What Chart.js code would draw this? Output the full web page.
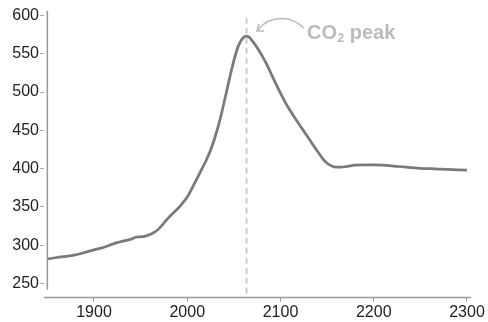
<!DOCTYPE html>
<html>
<head>
<meta charset="utf-8">
<script src="https://cdn.jsdelivr.net/npm/chart.js@4/dist/chart.umd.min.js"></script>
<style>
  html, body { margin: 0; padding: 0; background: #fff; }
  #wrap { position: relative; width: 488px; height: 322px; }
</style>
</head>
<body>
<div id="wrap"><canvas id="c" width="488" height="322"></canvas></div>
<script>
const years = [1850,1860,1870,1880,1890,1900,1910,1920,1925,1930,1940,1945,1950,1955,1960,1965,1970,1975,1980,1985,1990,1995,2000,2005,2010,2015,2020,2025,2030,2035,2040,2045,2050,2055,2060,2063,2066,2070,2075,2080,2085,2090,2095,2100,2105,2110,2115,2120,2125,2130,2135,2140,2145,2150,2155,2160,2165,2170,2180,2190,2200,2210,2220,2230,2240,2250,2260,2270,2280,2290,2300];
const co2 =   [282, 284, 285.5,287.5,290.5,294, 297, 301.5,303.5,305, 308, 310.5,311, 312, 314, 317, 322, 329, 336, 342, 348, 355, 363, 374, 386, 398, 410, 424, 442, 463.5,489, 516, 541, 561, 571, 573, 572, 566.5,558, 548, 537, 524, 511, 498.5,487, 476.5,467, 458, 449, 440, 431, 422, 413.5,407, 403.5,402, 402, 402.8,404.5,405, 405, 404.5,403.5,402.5,401.5,400.5,400, 399.5,399, 398.5,398];
const xTicks = [1900, 2000, 2100, 2200, 2300];
const yTicks = [250, 300, 350, 400, 450, 500, 550, 600];
const peakYear = 2063;
const peakLabel = ['CO', '2', ' peak'];

const FONT = '"Liberation Sans", Arial, sans-serif';

const annot = {
  id: 'annot',
  beforeDatasetsDraw(chart) {
    const {ctx, scales: {x, y}, chartArea} = chart;
    const px = Math.round(x.getPixelForValue(peakYear)) + 0.5;
    ctx.save();
    ctx.strokeStyle = '#cccccc';
    ctx.lineWidth = 2;
    ctx.setLineDash([6, 4]);
    ctx.beginPath();
    ctx.moveTo(px, y.getPixelForValue(597));
    ctx.lineTo(px, chartArea.bottom);
    ctx.stroke();
    ctx.restore();
  },
  afterDraw(chart) {
    const {ctx, scales: {x, y}, chartArea} = chart;
    ctx.save();
    // axis lines
    ctx.strokeStyle = '#999999';
    ctx.lineWidth = 1.5;
    const ax = x.getPixelForValue(1850);
    ctx.beginPath();
    ctx.moveTo(ax, chartArea.top);
    ctx.lineTo(ax, y.getPixelForValue(242));
    ctx.stroke();
    ctx.beginPath();
    ctx.moveTo(chartArea.left, chartArea.bottom + 0.5);
    ctx.lineTo(chartArea.right, chartArea.bottom + 0.5);
    ctx.stroke();

    // annotation text
    const tx = x.getPixelForValue(peakYear) + 61;
    const ty = 33;
    ctx.fillStyle = '#bbbbbb';
    ctx.textBaseline = 'middle';
    ctx.font = 'bold 20px ' + FONT;
    ctx.fillText(peakLabel[0], tx, ty);
    let w = ctx.measureText(peakLabel[0]).width;
    ctx.font = 'bold 12px ' + FONT;
    ctx.fillText(peakLabel[1], tx + w + 0.5, ty + 6);
    w += ctx.measureText(peakLabel[1]).width + 0.5;
    ctx.font = 'bold 20px ' + FONT;
    ctx.fillText(peakLabel[2], tx + w, ty);

    // curved arrow
    const sx = tx - 3, sy = 28;
    const ex = x.getPixelForValue(peakYear) + 12, ey = 30;
    ctx.strokeStyle = '#bbbbbb';
    ctx.lineWidth = 1.5;
    ctx.beginPath();
    ctx.moveTo(sx, sy);
    ctx.bezierCurveTo(sx - 12, sy - 12, ex + 12, sy - 14, ex, ey);
    ctx.stroke();
    ctx.beginPath();
    ctx.moveTo(ex + 1, ey - 6);
    ctx.lineTo(ex - 1, ey + 1);
    ctx.lineTo(ex + 6, ey + 1);
    ctx.stroke();
    ctx.restore();
  }
};

new Chart(document.getElementById('c'), {
  type: 'line',
  data: {
    datasets: [{
      data: years.map((yr, i) => ({x: yr, y: co2[i]})),
      borderColor: '#7a7a7a',
      borderWidth: 2.75,
      pointRadius: 0,
      fill: false,
      cubicInterpolationMode: 'monotone'
    }]
  },
  options: {
    responsive: false,
    animation: false,
    devicePixelRatio: 1,
    layout: { padding: { top: 11, right: 17, left: 0, bottom: 0 } },
    plugins: { legend: { display: false }, tooltip: { enabled: false } },
    scales: {
      x: {
        type: 'linear',
        min: 1846.4,
        max: 2304.3,
        afterFit(s) { s.height = 25; },
        afterBuildTicks(s) { s.ticks = xTicks.map(v => ({value: v})); },
        border: { display: false },
        grid: { drawOnChartArea: false, drawTicks: true, tickLength: 5, color: '#aaaaaa', lineWidth: 1 },
        ticks: { color: '#222222', font: { family: FONT, size: 16 }, padding: 1, maxRotation: 0, autoSkip: false, callback: v => String(v) }
      },
      y: {
        type: 'linear',
        min: 232.4,
        max: 605.9,
        afterFit(s) { s.width = 44; },
        afterBuildTicks(s) { s.ticks = yTicks.map(v => ({value: v})); },
        border: { display: false },
        grid: { drawOnChartArea: false, drawTicks: true, tickLength: 4, color: '#aaaaaa', lineWidth: 1 },
        ticks: { color: '#222222', font: { family: FONT, size: 16 }, padding: 1, autoSkip: false, callback: v => String(v) }
      }
    }
  },
  plugins: [annot]
});
</script>
</body>
</html>
